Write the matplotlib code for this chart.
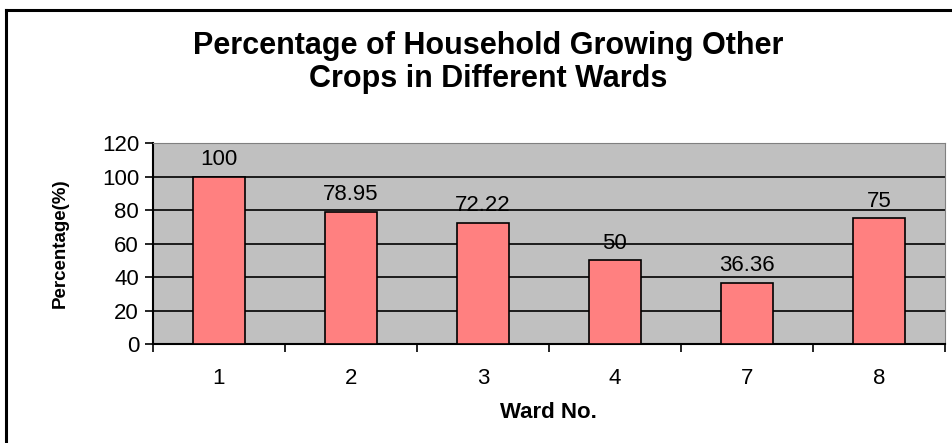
import matplotlib.pyplot as plt
from matplotlib.lines import Line2D

plt.rcParams['font.family'] = ['Liberation Sans', 'DejaVu Sans']

wards = ['1', '2', '3', '4', '7', '8']
percent = [100, 78.95, 72.22, 50, 36.36, 75]
value_labels = ['100', '78.95', '72.22', '50', '36.36', '75']

fig = plt.figure(figsize=(9.53, 4.43), dpi=100)
ax = fig.add_axes([0.1605, 0.2235, 0.831, 0.4535])
ax.set_facecolor('#c0c0c0')

x = list(range(len(wards)))
bars = ax.bar(x, percent, width=0.39, color='#ff8080', edgecolor='black', linewidth=1.2, zorder=3)
for b, lab in zip(bars, value_labels):
    ax.text(b.get_x() + b.get_width() / 2, b.get_height() + 4, lab,
            ha='center', va='bottom', fontsize=16)

ax.set_xlim(-0.5, len(wards) - 0.5)
ax.set_ylim(0, 120)
ax.set_yticks(range(0, 121, 20))
ax.yaxis.grid(True, color='black', linewidth=1.2, zorder=0)
ax.set_axisbelow(True)

# ticks sit between categories, labels in the middle
ax.set_xticks([i + 0.5 for i in range(-1, len(wards))], minor=False)
ax.set_xticklabels([])
ax.set_xticks(x, minor=True)
ax.set_xticklabels(wards, minor=True, fontsize=16)
ax.tick_params(axis='x', which='minor', length=0, pad=17)
ax.tick_params(axis='x', which='major', length=6, width=1.2, direction='out')
ax.tick_params(axis='y', length=6, width=1.2, labelsize=16, pad=4)

ax.spines['top'].set_color('#808080')
ax.spines['right'].set_color('#808080')
ax.spines['left'].set_linewidth(1.5)
ax.spines['bottom'].set_linewidth(1.5)

ax.set_xlabel('Ward No.', fontsize=16, fontweight='bold', labelpad=10)
ax.set_ylabel('Percentage(%)', fontsize=13.5, fontweight='bold', labelpad=24)

fig.text(0.512, 0.859, 'Percentage of Household Growing Other\nCrops in Different Wards',
         ha='center', va='center', fontsize=22, fontweight='bold', linespacing=1.1)

# chart frame, cut off at right and bottom
fig.lines.append(Line2D([0.0063, 1.0], [0.977, 0.977], transform=fig.transFigure,
                        color='black', linewidth=2.2))
fig.lines.append(Line2D([0.0063, 0.0063], [0.0, 0.977], transform=fig.transFigure,
                        color='black', linewidth=2.2))

fig.savefig('out.png', dpi=100)
